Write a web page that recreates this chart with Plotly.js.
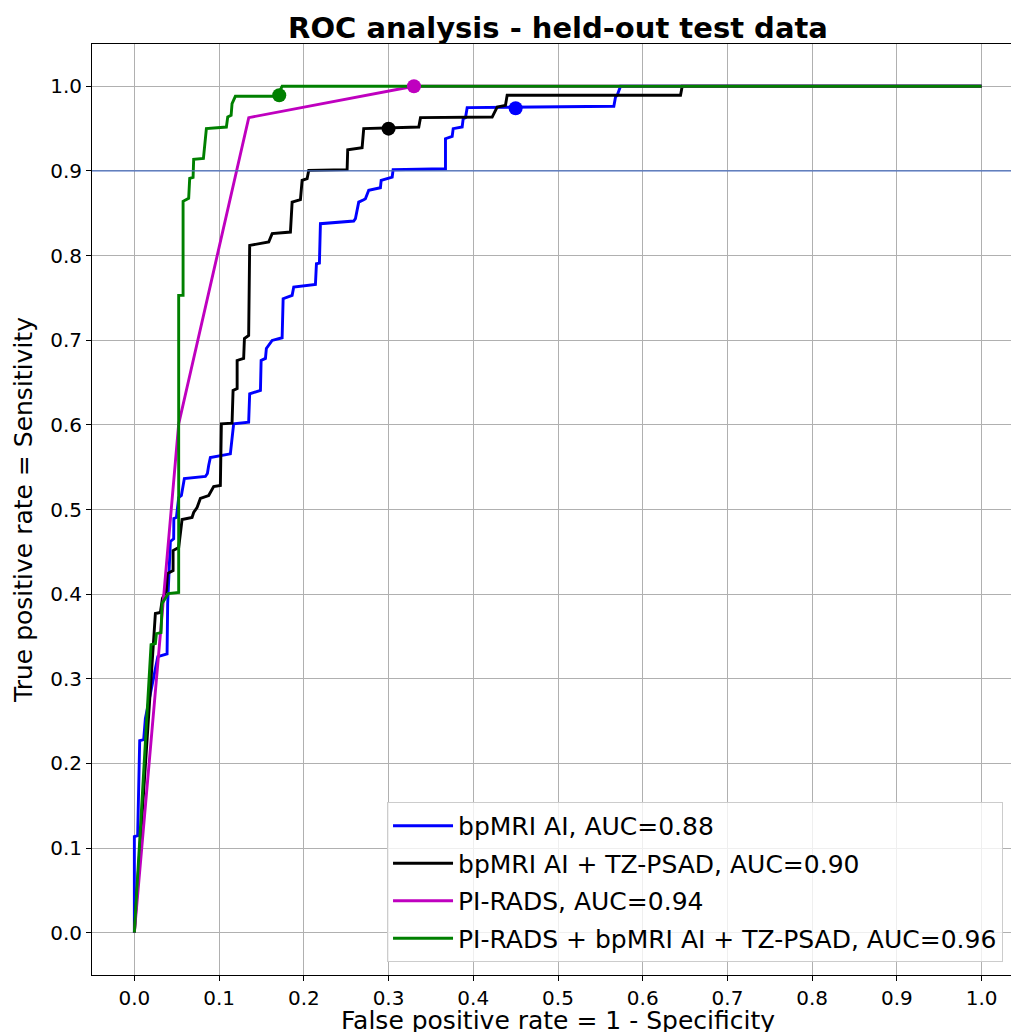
<!DOCTYPE html>
<html>
<head>
<meta charset="utf-8">
<script src="https://cdn.plot.ly/plotly-3.0.1.min.js"></script>
<style>
html,body{margin:0;padding:0;overflow:hidden;background:#fff;}
#chart{width:1024px;height:1035px;}
</style>
</head>
<body>
<div id="chart"></div>
<script>
// ---- data ----
const seriesNames = [
  "bpMRI AI, AUC=0.88",
  "bpMRI AI + TZ-PSAD, AUC=0.90",
  "PI-RADS, AUC=0.94",
  "PI-RADS + bpMRI AI + TZ-PSAD, AUC=0.96"
];
const seriesColors = ["#0000ff", "#000000", "#bf00bf", "#008000"];

const bpmriFpr = [0,0,0.0039,0.0063,0.0110,0.0130,0.0277,0.0386,0.0393,0.0425,0.0464,0.0466,0.0496,0.0523,0.0555,0.0590,0.0838,0.0862,0.0877,0.0897,0.1133,0.1172,0.1349,0.1361,0.1488,0.1496,0.1547,0.1558,0.1626,0.1744,0.1756,0.1862,0.1881,0.2137,0.2149,0.2184,0.2196,0.2589,0.2609,0.2648,0.2707,0.2727,0.2766,0.2904,0.2913,0.3043,0.3054,0.3672,0.3672,0.3751,0.3763,0.3869,0.3881,0.3908,0.3928,0.5659,0.5679,0.5699,0.5738,1];
const bpmriTpr = [0,0.1135,0.1147,0.2270,0.2281,0.2530,0.3262,0.3294,0.3885,0.4622,0.4654,0.4894,0.4905,0.5142,0.5165,0.5366,0.5390,0.5426,0.5520,0.5615,0.5658,0.6013,0.6032,0.6367,0.6407,0.6761,0.6785,0.6903,0.6998,0.7029,0.7490,0.7530,0.7628,0.7660,0.7904,0.7911,0.8377,0.8408,0.8436,0.8632,0.8660,0.8671,0.8771,0.8802,0.8889,0.8928,0.9015,0.9026,0.9381,0.9409,0.9500,0.9519,0.9618,0.9629,0.9748,0.9764,0.9874,0.9894,1,1];

const psadFpr = [0,0.0224,0.0248,0.0307,0.0331,0.0378,0.0390,0.0457,0.0457,0.0523,0.0535,0.0563,0.0681,0.0700,0.0740,0.0779,0.0877,0.0936,0.1015,0.1027,0.1153,0.1165,0.1213,0.1213,0.1290,0.1299,0.1349,0.1361,0.1586,0.1626,0.1842,0.1862,0.1960,0.1980,0.2039,0.2058,0.2511,0.2518,0.2688,0.2707,0.3357,0.3377,0.4223,0.4282,0.4380,0.4400,0.6446,0.6466,1];
const psadTpr = [0,0.3452,0.3771,0.3783,0.3948,0.4043,0.4243,0.4279,0.4515,0.4551,0.4634,0.4882,0.4905,0.4965,0.5024,0.5130,0.5165,0.5272,0.5284,0.6013,0.6020,0.6407,0.6430,0.6761,0.6785,0.7021,0.7057,0.8121,0.8160,0.8259,0.8278,0.8632,0.8661,0.8889,0.8909,0.9007,0.9015,0.9251,0.9275,0.9500,0.9519,0.9630,0.9637,0.9755,0.9775,0.9894,0.9894,1,1];

const piradsFpr = [0,0.0523,0.135,0.33,1];
const piradsTpr = [0,0.601,0.963,1,1];

const comboFpr = [0,0.0197,0.0248,0.0260,0.0315,0.0327,0.0401,0.0523,0.0523,0.0575,0.0575,0.0641,0.0653,0.0693,0.0700,0.0815,0.0850,0.1086,0.1102,0.1142,0.1153,0.1192,0.1685,0.1744,1];
const comboTpr = [0,0.3404,0.3416,0.3534,0.3546,0.3889,0.4007,0.4019,0.7530,0.7530,0.8641,0.8676,0.8913,0.8924,0.9137,0.9149,0.9500,0.9519,0.9637,0.9657,0.9795,0.9882,0.9882,1,1];

// operating points (one per series)
const opFpr = [0.45, 0.30, 0.33, 0.171];
const opTpr = [0.974, 0.95, 1.0, 0.9895];

const sensitivityTarget = 0.9;
const tickVals = [0,0.1,0.2,0.3,0.4,0.5,0.6,0.7,0.8,0.9,1.0];
const tickText = ["0.0","0.1","0.2","0.3","0.4","0.5","0.6","0.7","0.8","0.9","1.0"];

// ---- traces ----
const curves = [[bpmriFpr,bpmriTpr],[psadFpr,psadTpr],[piradsFpr,piradsTpr],[comboFpr,comboTpr]];
const traces = [];
curves.forEach((c,i)=>{
  traces.push({
    x:c[0], y:c[1], type:'scatter', mode:'lines', name:seriesNames[i],
    line:{color:seriesColors[i], width:2.9},
    legendgroup:'g'+i, hoverinfo:'skip'
  });
});
opFpr.forEach((v,i)=>{
  traces.push({
    x:[v], y:[opTpr[i]], type:'scatter', mode:'markers', showlegend:false,
    marker:{color:seriesColors[i], size:14, line:{width:0}}, hoverinfo:'skip'
  });
});

const font = "DejaVu Sans, sans-serif";
const axisCommon = {
  range:[-0.05,1.05], tickvals:tickVals, ticktext:tickText,
  showgrid:true, gridcolor:'#b0b0b0', gridwidth:1,
  zeroline:false, showline:true, linecolor:'#000', linewidth:1, mirror:true,
  ticks:'outside', ticklen:5, tickwidth:1, tickcolor:'#000',
  tickfont:{family:font, size:20, color:'#000'}, automargin:false
};

const layout = {
  width:1024, height:1035,
  margin:{l:92, r:0, t:44, b:60},
  paper_bgcolor:'#fff', plot_bgcolor:'#fff',
  font:{family:font, color:'#000'},
  title:{text:'<b>ROC analysis - held-out test data</b>', font:{family:font, size:29, color:'#000'},
         x:0.5, xref:'paper', y:1, yref:'paper', yanchor:'bottom', pad:{b:6}},
  xaxis:Object.assign({}, axisCommon, {
    title:{text:'False positive rate = 1 - Specificity', font:{family:font, size:25, color:'#000'}, standoff:2}
  }),
  yaxis:Object.assign({}, axisCommon, {
    title:{text:'True positive rate = Sensitivity', font:{family:font, size:25, color:'#000'}, standoff:10}
  }),
  shapes:[{type:'line', xref:'paper', x0:0, x1:1, yref:'y', y0:sensitivityTarget, y1:sensitivityTarget,
           line:{color:'#4a6fbf', width:1.2}, layer:'above'}],
  legend:{x:0.9775, xanchor:'right', y:0.014, yanchor:'bottom',
          bgcolor:'rgba(255,255,255,0.8)', bordercolor:'#cccccc', borderwidth:1,
          font:{family:font, size:25, color:'#000'}, tracegroupgap:2, traceorder:'grouped',
          itemwidth:60},
  showlegend:true
};

Plotly.newPlot('chart', traces, layout, {displayModeBar:false, staticPlot:true});
</script>
</body>
</html>
